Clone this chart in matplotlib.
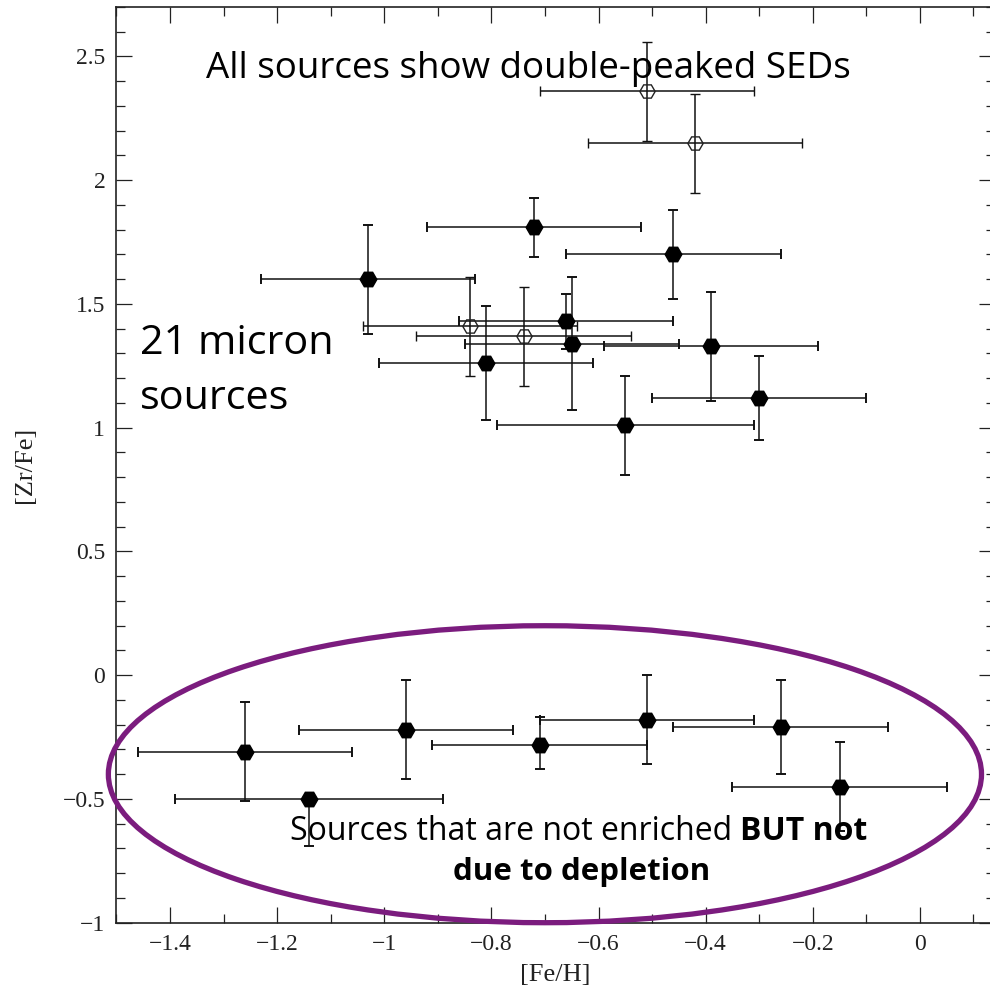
import matplotlib
matplotlib.use('Agg')
import matplotlib.pyplot as plt
from matplotlib.patches import Ellipse
from matplotlib.ticker import MultipleLocator, FuncFormatter

# filled symbols: [Fe/H], [Zr/Fe] and their errors
fe_h = [-0.72, -0.46, -1.03, -0.66, -0.65, -0.39, -0.81, -0.30, -0.55,
        -1.26, -1.14, -0.96, -0.71, -0.51, -0.26, -0.15]
zr_fe = [1.81, 1.70, 1.60, 1.43, 1.34, 1.33, 1.26, 1.12, 1.01,
         -0.31, -0.50, -0.22, -0.28, -0.18, -0.21, -0.45]
fe_err = [0.20, 0.20, 0.20, 0.20, 0.20, 0.20, 0.20, 0.20, 0.24,
          0.20, 0.25, 0.20, 0.20, 0.20, 0.20, 0.20]
zr_err_lo = [0.12, 0.18, 0.22, 0.11, 0.27, 0.22, 0.23, 0.17, 0.20,
             0.20, 0.19, 0.20, 0.10, 0.18, 0.19, 0.18]
zr_err_hi = [0.12, 0.18, 0.22, 0.11, 0.27, 0.22, 0.23, 0.17, 0.20,
             0.20, 0.00, 0.20, 0.11, 0.18, 0.19, 0.18]

# open symbols
open_fe_h = [-0.51, -0.42, -0.84, -0.74]
open_zr_fe = [2.36, 2.15, 1.41, 1.37]
open_fe_err = [0.20, 0.20, 0.20, 0.20]
open_zr_err = [0.20, 0.20, 0.20, 0.20]

W = 990.0
fig = plt.figure(figsize=(9.9, 9.9), dpi=100)
ax = fig.add_axes([116.4 / W, 67.3 / W, 878.5 / W, 915.7 / W])

ax.errorbar(fe_h, zr_fe, xerr=fe_err, yerr=[zr_err_lo, zr_err_hi],
            fmt='H', ms=12, color='black', ecolor='#111111',
            elinewidth=1.1, capsize=3.6, capthick=1.4)
ax.errorbar(open_fe_h, open_zr_fe, xerr=open_fe_err, yerr=open_zr_err,
            fmt='H', ms=11, mfc='none', mec='#222222', mew=1.0,
            ecolor='#111111', elinewidth=1.1, capsize=3.6, capthick=1.4)

ax.set_xlim(-1.5, 0.14)
ax.set_ylim(-1, 2.7)

ax.xaxis.set_major_locator(MultipleLocator(0.2))
ax.xaxis.set_minor_locator(MultipleLocator(0.1))
ax.yaxis.set_major_locator(MultipleLocator(0.5))
ax.yaxis.set_minor_locator(MultipleLocator(0.1))
fmt = FuncFormatter(lambda v, p: ('%g' % round(v, 2)).replace('-', '\u2212'))
ax.xaxis.set_major_formatter(fmt)
ax.yaxis.set_major_formatter(fmt)

ax.tick_params(which='both', direction='in', top=True, right=True,
               width=0.9, color='#222222')
ax.tick_params(which='major', length=11.5, pad=8, labelsize=17,
               labelcolor='#222222')
ax.tick_params(which='minor', length=6.5)
for lab in ax.get_xticklabels() + ax.get_yticklabels():
    lab.set_family('Liberation Serif')
for s in ax.spines.values():
    s.set_linewidth(1.2)
    s.set_color('#222222')

ax.set_xlabel('[Fe/H]', family='Liberation Serif', fontsize=19,
              color='#222222', va='center')
ax.set_ylabel('[Zr/Fe]', family='Liberation Serif', fontsize=19,
              color='#222222', va='center')
ax.xaxis.set_label_coords(0.5, -0.057)
ax.yaxis.set_label_coords(-0.104, 0.5)

ell = Ellipse((-0.70, -0.40), 1.63, 1.20, fill=False, edgecolor='#7b1c7e',
              linewidth=3.8, clip_on=False, zorder=5)
ax.add_patch(ell)

font = 'Open Sans'
fig.text(528 / W, 1 - 78 / W, 'All sources show double-peaked SEDs',
         family=font, fontsize=26.5, ha='center', va='baseline')
fig.text(140 / W, 1 - 354 / W, '21 micron', family=font, fontsize=29.8,
         ha='left', va='baseline')
fig.text(140 / W, 1 - 409 / W, 'sources', family=font, fontsize=29.8,
         ha='left', va='baseline')

t1 = fig.text(290 / W, 1 - 840 / W, 'Sources that are not enriched ',
              family=font, fontsize=23, ha='left', va='baseline', zorder=6)
fig.canvas.draw()
bb = t1.get_window_extent()
fig.text(bb.x1 / W, 1 - 840 / W, 'BUT not', family=font, fontsize=23,
         fontweight='bold', ha='left', va='baseline', zorder=6)
fig.text(582 / W, 1 - 880 / W, 'due to depletion', family=font, fontsize=22.5,
         fontweight='bold', ha='center', va='baseline', zorder=6)

fig.savefig('out.png', dpi=100)
